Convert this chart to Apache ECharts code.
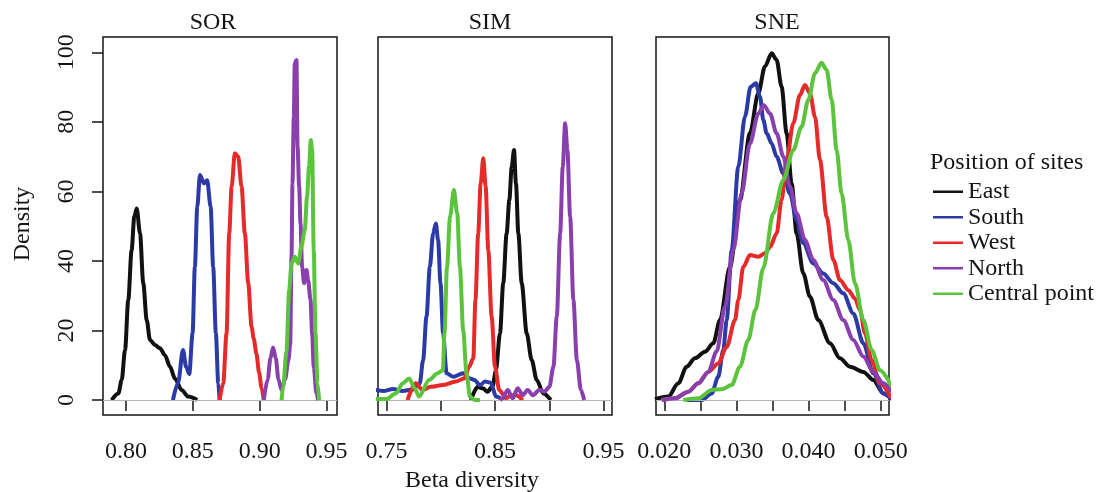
<!DOCTYPE html>
<html>
<head>
<meta charset="utf-8">
<title>Beta diversity density</title>
<script src="https://cdn.jsdelivr.net/npm/echarts@6/dist/echarts.min.js"></script>
<style>
  html, body { margin: 0; padding: 0; background: #ffffff; }
  #chart { width: 1101px; height: 492px; }
</style>
</head>
<body>
<div id="chart"></div>
<script>
// Density curves of beta diversity for each site position, [value, density]
const siteNames = ['East', 'South', 'West', 'North', 'Central point'];
const panelTitles = ['SOR', 'SIM', 'SNE'];

// SOR (Sorensen)
const sorEast = [[0.7893,0],[0.7943,1.9],[0.7968,5.8],[0.7993,14.4],[0.8017,28.8],[0.8042,43.1],[0.8062,52.7],[0.8080,55.1],[0.8105,47.9],[0.8129,33.6],[0.8155,23.0],[0.8179,17.3],[0.8217,15.8],[0.8254,14.9],[0.8291,12.9],[0.8329,9.6],[0.8366,6.2],[0.8416,2.9],[0.8465,1.0],[0.8533,0]];
const sorSouth = [[0.8351,0],[0.8390,5.0],[0.8426,14.4],[0.8450,9.5],[0.8473,7.5],[0.8498,19.2],[0.8515,38.3],[0.8533,55.6],[0.8553,64.7],[0.8583,62.3],[0.8607,63.2],[0.8633,55.6],[0.8652,38.3],[0.8672,19.2],[0.8690,4.8],[0.8700,0]];
const sorWest = [[0.8700,0],[0.8727,4.8],[0.8752,19.2],[0.8772,47.9],[0.8790,61.4],[0.8814,71.0],[0.8839,70.0],[0.8864,61.4],[0.8889,47.9],[0.8914,33.6],[0.8939,21.1],[0.8955,17.7],[0.8975,13.4],[0.8995,8.0],[0.9014,3.5],[0.9030,0]];
const sorNorth = [[0.9030,0],[0.9060,6.0],[0.9080,12.0],[0.9100,15.1],[0.9120,12.0],[0.9140,6.0],[0.9163,2.9],[0.9190,6.0],[0.9215,11.5],[0.9228,16.0],[0.9238,41.2],[0.9245,62.3],[0.9255,81.5],[0.9262,96.8],[0.9275,97.8],[0.9283,72.9],[0.9295,61.4],[0.9305,50.8],[0.9317,38.3],[0.9332,33.6],[0.9350,37.4],[0.9362,34.5],[0.9380,28.8],[0.9392,19.2],[0.9404,9.6],[0.9424,2.0],[0.9437,0]];
const sorCentral = [[0.9163,0],[0.9175,3.8],[0.9200,14.0],[0.9220,31.6],[0.9238,39.3],[0.9262,41.2],[0.9287,39.3],[0.9312,44.1],[0.9337,48.9],[0.9354,58.5],[0.9369,67.1],[0.9382,74.8],[0.9392,71.9],[0.9404,43.1],[0.9417,19.2],[0.9432,4.8],[0.9444,0]];

// SIM (Simpson turnover)
const simEast = [[0.8278,0],[0.8340,3.8],[0.8386,3.4],[0.8432,2.4],[0.8478,4.0],[0.8509,8.6],[0.8546,19.2],[0.8576,33.6],[0.8607,47.9],[0.8632,57.5],[0.8654,67.1],[0.8675,71.9],[0.8693,62.3],[0.8715,47.9],[0.8746,33.6],[0.8792,19.2],[0.8838,11.5],[0.8884,5.8],[0.8945,1.9],[0.9014,0]];
const simSouth = [[0.7400,2.9],[0.7480,2.6],[0.7560,3.2],[0.7650,2.6],[0.7740,3.0],[0.7807,4.8],[0.7838,11.5],[0.7869,24.0],[0.7900,38.3],[0.7930,47.9],[0.7955,50.8],[0.7976,46.0],[0.7998,33.6],[0.8022,19.2],[0.8054,7.7],[0.8115,6.7],[0.8207,7.7],[0.8269,6.2],[0.8310,5.8],[0.8360,4.3],[0.8410,5.3],[0.8460,5.0],[0.8510,1.0],[0.8571,0]];
const simWest = [[0.7694,0],[0.7770,4.8],[0.7832,2.9],[0.7909,3.8],[0.8017,4.3],[0.8140,5.3],[0.8216,6.2],[0.8262,9.6],[0.8300,12.0],[0.8320,28.8],[0.8345,47.9],[0.8368,62.3],[0.8392,69.5],[0.8414,61.4],[0.8438,43.1],[0.8469,24.0],[0.8500,9.6],[0.8539,2.9],[0.8601,0.5],[0.8650,1.4],[0.8693,1.4],[0.8755,0]];
const simNorth = [[0.8546,0],[0.8571,0.5],[0.8617,2.9],[0.8663,0.5],[0.8709,3.4],[0.8755,1.4],[0.8801,2.9],[0.8848,1.4],[0.8909,2.9],[0.8955,2.4],[0.9001,3.8],[0.9038,9.6],[0.9069,24.0],[0.9100,47.9],[0.9124,67.1],[0.9146,79.6],[0.9167,71.9],[0.9192,52.7],[0.9222,28.8],[0.9254,11.5],[0.9291,2.9],[0.9321,0]];
const simCentral = [[0.7400,0.3],[0.7500,0.3],[0.7586,1.9],[0.7650,4.8],[0.7709,6.2],[0.7760,3.4],[0.7801,1.0],[0.7893,5.8],[0.7971,7.7],[0.8020,8.6],[0.8035,19.2],[0.8058,38.3],[0.8086,52.7],[0.8121,60.4],[0.8152,53.7],[0.8177,38.3],[0.8207,20.0],[0.8238,7.7],[0.8269,1.0],[0.8315,0],[0.8361,0]];

// SNE (nestedness)
const sneEast = [[0.01871,0.2],[0.02055,1.0],[0.02194,4.8],[0.02310,9.6],[0.02425,12.0],[0.02564,13.9],[0.02679,16.3],[0.02772,23.0],[0.02910,38.3],[0.03049,57.5],[0.03187,76.7],[0.03303,88.2],[0.03395,95.9],[0.03488,99.7],[0.03557,97.8],[0.03626,90.1],[0.03696,76.7],[0.03765,62.3],[0.03834,47.9],[0.03927,36.4],[0.04019,29.7],[0.04135,23.0],[0.04297,16.3],[0.04435,12.0],[0.04574,9.6],[0.04759,8.1],[0.04897,5.8],[0.05036,1.9],[0.05150,0.3]];
const sneSouth = [[0.02310,0],[0.02518,0],[0.02657,1.9],[0.02748,6.7],[0.02818,14.4],[0.02865,23.0],[0.02934,43.1],[0.03026,67.1],[0.03118,81.5],[0.03197,90.1],[0.03271,91.1],[0.03327,87.2],[0.03373,80.5],[0.03419,76.7],[0.03488,73.8],[0.03557,70.0],[0.03650,65.2],[0.03742,59.4],[0.03834,51.8],[0.03927,45.1],[0.04065,39.3],[0.04204,36.4],[0.04342,33.6],[0.04481,30.7],[0.04620,24.9],[0.04759,16.3],[0.04897,7.7],[0.05036,1.9],[0.05150,0.3]];
const sneWest = [[0.01964,0],[0.02148,0.5],[0.02333,2.4],[0.02471,4.8],[0.02610,8.1],[0.02748,10.5],[0.02865,15.3],[0.02980,23.0],[0.03026,28.8],[0.03095,38.3],[0.03188,41.7],[0.03303,41.2],[0.03395,42.2],[0.03465,44.0],[0.03557,47.9],[0.03626,57.5],[0.03696,69.0],[0.03788,79.6],[0.03880,87.7],[0.03950,90.6],[0.04019,88.2],[0.04089,81.5],[0.04158,69.0],[0.04251,52.7],[0.04343,40.3],[0.04435,34.5],[0.04551,31.6],[0.04643,29.2],[0.04712,25.9],[0.04782,19.2],[0.04874,11.5],[0.04990,4.8],[0.05150,0.5]];
const sneNorth = [[0.01964,0],[0.02148,0.5],[0.02333,2.4],[0.02471,4.8],[0.02610,8.1],[0.02726,14.0],[0.02841,26.8],[0.02957,43.1],[0.03072,59.4],[0.03188,73.8],[0.03303,82.4],[0.03380,84.8],[0.03465,82.4],[0.03557,76.7],[0.03650,70.0],[0.03742,61.4],[0.03834,53.7],[0.03950,46.0],[0.04065,40.3],[0.04204,34.5],[0.04342,28.8],[0.04481,23.0],[0.04620,17.3],[0.04759,12.5],[0.04897,8.1],[0.05036,4.8],[0.05150,2.5]];
const sneCentral = [[0.02263,0],[0.02471,0.5],[0.02657,2.9],[0.02795,3.1],[0.02934,4.3],[0.03049,9.6],[0.03164,17.3],[0.03264,26.0],[0.03373,38.0],[0.03511,53.7],[0.03650,63.3],[0.03788,71.9],[0.03903,78.6],[0.03996,86.3],[0.04089,94.0],[0.04180,97.0],[0.04251,94.9],[0.04320,86.3],[0.04389,71.9],[0.04458,59.4],[0.04551,46.0],[0.04643,33.6],[0.04759,23.0],[0.04874,14.4],[0.04990,8.6],[0.05150,4.0]];

// Axis ticks and labels
const densityTicks = [0, 20, 40, 60, 80, 100];
const sorTicks = [0.80, 0.85, 0.90, 0.95];
const sorLabels = [0.80, 0.85, 0.90, 0.95];
const simTicks = [0.75, 0.80, 0.85, 0.90, 0.95];
const simLabels = [0.75, 0.85, 0.95];
const sneTicks = [0.020, 0.025, 0.030, 0.035, 0.040, 0.045, 0.050];
const sneLabels = [0.020, 0.030, 0.040, 0.050];

const panelData = [
  [sorEast, sorSouth, sorWest, sorNorth, sorCentral],
  [simEast, simSouth, simWest, simNorth, simCentral],
  [sneEast, sneSouth, sneWest, sneNorth, sneCentral]
];

// Presentation
const lineColors = ['#111111', '#2c3aa6', '#e62a2a', '#8a3fae', '#5cc43c'];
const FONT = '"Liberation Serif", "Times New Roman", "DejaVu Serif", serif';
const INK = '#151515';
const grids = [
  { left: 103, top: 37, width: 234, height: 378 },
  { left: 378, top: 37, width: 234, height: 378 },
  { left: 656, top: 37, width: 233, height: 378 }
];
const xRanges = [[0.7828, 0.9578], [0.74225, 0.95775], [0.01885, 0.05115]];
const xTicks = [sorTicks, simTicks, sneTicks];
const xLabels = [sorLabels, simLabels, sneLabels];
const xDigits = [2, 2, 3];
const yRange = [-4.3, 104.4];

const chart = echarts.init(document.getElementById('chart'), null, { renderer: 'canvas' });

const xAxes = grids.map((g, i) => ({
  type: 'value',
  gridIndex: i,
  min: xRanges[i][0],
  max: xRanges[i][1],
  axisLine: { show: false },
  splitLine: { show: false },
  axisTick: {
    show: true,
    customValues: xTicks[i],
    length: 11,
    lineStyle: { color: INK, width: 1.5 }
  },
  axisLabel: {
    show: true,
    customValues: xLabels[i],
    formatter: v => Number(v).toFixed(xDigits[i]),
    margin: 25,
    fontFamily: FONT,
    fontSize: 24,
    lineHeight: 24,
    color: INK
  }
}));

const yAxes = grids.map((g, i) => ({
  type: 'value',
  gridIndex: i,
  min: yRange[0],
  max: yRange[1],
  show: i === 0,
  axisLine: { show: false },
  splitLine: { show: false },
  axisTick: {
    show: i === 0,
    customValues: densityTicks,
    length: 11,
    lineStyle: { color: INK, width: 1.5 }
  },
  axisLabel: {
    show: i === 0,
    customValues: densityTicks,
    rotate: 90,
    margin: 24,
    fontFamily: FONT,
    fontSize: 24,
    lineHeight: 24,
    color: INK
  }
}));

const series = [];
panelData.forEach((curves, p) => {
  curves.forEach((pts, k) => {
    const s = {
      name: siteNames[k],
      type: 'line',
      xAxisIndex: p,
      yAxisIndex: p,
      data: pts,
      symbol: 'none',
      showSymbol: false,
      smooth: 0.3,
      smoothMonotone: 'x',
      clip: true,
      lineStyle: { color: lineColors[k], width: 4 },
      itemStyle: { color: lineColors[k] },
      emphasis: { disabled: true },
      z: 2 + k
    };
    if (k === 0) {
      // zero reference line across the panel
      s.markLine = {
        silent: true,
        symbol: 'none',
        label: { show: false },
        lineStyle: { color: '#b4b4b4', width: 1, type: 'solid' },
        data: [{ yAxis: 0 }]
      };
    }
    series.push(s);
  });
});

const textStyle = (extra) => Object.assign({
  font: '24px ' + FONT,
  fill: INK,
  align: 'center',
  verticalAlign: 'middle'
}, extra || {});

const option = {
  animation: false,
  backgroundColor: '#ffffff',
  grid: grids.map(g => Object.assign({
    show: true,
    borderColor: INK,
    borderWidth: 1.5,
    backgroundColor: 'transparent',
    containLabel: false
  }, g)),
  xAxis: xAxes,
  yAxis: yAxes,
  legend: {
    data: siteNames,
    orient: 'vertical',
    left: 933,
    top: 179,
    icon: 'rect',
    itemWidth: 30,
    itemHeight: 2.5,
    itemGap: 0,
    padding: 0,
    selectedMode: false,
    textStyle: { fontFamily: FONT, fontSize: 24, lineHeight: 25.5, color: INK }
  },
  graphic: [
    { type: 'text', x: 213, y: 23, style: textStyle({ text: panelTitles[0] }) },
    { type: 'text', x: 490, y: 23, style: textStyle({ text: panelTitles[1] }) },
    { type: 'text', x: 777, y: 23, style: textStyle({ text: panelTitles[2] }) },
    { type: 'text', x: 23, y: 224, rotation: Math.PI / 2, style: textStyle({ text: 'Density' }) },
    { type: 'text', x: 472, y: 481, style: textStyle({ text: 'Beta diversity' }) },
    { type: 'text', x: 930, y: 163, style: textStyle({ text: 'Position of sites', align: 'left' }) }
  ],
  series: series
};

chart.setOption(option);
</script>
</body>
</html>
